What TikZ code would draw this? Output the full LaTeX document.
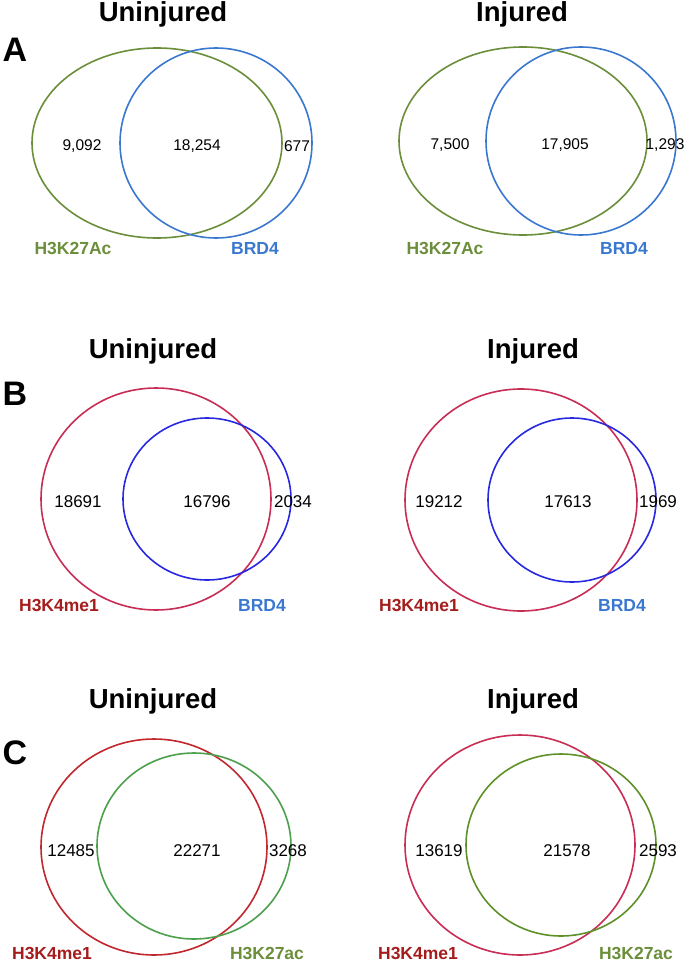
\documentclass[tikz,border=0pt]{standalone}
\usepackage{fontspec}
\setmainfont{Liberation Sans}
\usepackage{tikz}
\usetikzlibrary{positioning}
\definecolor{verdeA}{RGB}{107,142,58}
\definecolor{albastruA}{RGB}{58,120,208}
\definecolor{albastruB}{RGB}{40,40,225}
\definecolor{rosu}{RGB}{200,45,85}
\definecolor{rosuC}{RGB}{192,40,46}
\definecolor{rosuet}{RGB}{165,28,28}
\definecolor{verdeC}{RGB}{76,160,76}
\definecolor{verdeD}{RGB}{94,144,40}
\tikzset{
  titlu/.style    = {font=\bfseries\fontsize{27.5}{32}\selectfont, inner sep=0pt},
  litera/.style   = {font=\bfseries\fontsize{34}{40}\selectfont, inner sep=0pt},
  numar/.style    = {font=\fontsize{17}{20}\selectfont, inner sep=0pt},
  numarA/.style   = {font=\fontsize{15.5}{18}\selectfont, inner sep=0pt},
  eticheta/.style = {font=\bfseries\fontsize{17.5}{20}\selectfont, inner sep=0pt},
  cerc/.style     = {line width=1.6pt}
}
\begin{document}
\begin{tikzpicture}[x=1pt, y=-1pt]
    \useasboundingbox (0,0) rectangle (687,963);

    % A
    \node[litera] (la) at (15,50) {A};
    \node[titlu] (ta1) at (163,14) {Uninjured};
    \node[titlu] (ta2) at (522,14) {Injured};
    \draw[cerc, verdeA] (157,143) ellipse [x radius=125, y radius=95];
    \draw[cerc, albastruA] (216,143) ellipse [x radius=96, y radius=95];
    \draw[cerc, verdeA] (523,141) ellipse [x radius=124, y radius=94];
    \draw[cerc, albastruA] (581,141) ellipse [x radius=95, y radius=94];
    \node[numarA] (na1) at (82,146) {9,092};
    \node[numarA] (na2) at (197,146) {18,254};
    \node[numarA] (na3) at (297,146) {677};
    \node[numarA] (na4) at (450,145) {7,500};
    \node[numarA] (na5) at (565,145) {17,905};
    \node[numarA] (na6) at (665,145) {1,293};
    \node[eticheta, verdeA] (ea1) at (73,248) {H3K27Ac};
    \node[eticheta, albastruA] (ea2) at (255,248) {BRD4};
    \node[eticheta, verdeA] (ea3) at (445,248) {H3K27Ac};
    \node[eticheta, albastruA] (ea4) at (624,248) {BRD4};

    % B
    \node[litera] (lb) at (15,394) {B};
    \node[titlu] (tb1) at (153,351) {Uninjured};
    \node[titlu] (tb2) at (533,351) {Injured};
    \draw[cerc, rosu] (156,499) ellipse [x radius=115, y radius=111];
    \draw[cerc, albastruB] (207,499) ellipse [x radius=84, y radius=81];
    \draw[cerc, rosu] (521,500) ellipse [x radius=116, y radius=111];
    \draw[cerc, albastruB] (572,500) ellipse [x radius=84, y radius=82];
    \node[numar] (nb1) at (78,502) {18691};
    \node[numar] (nb2) at (207,502) {16796};
    \node[numar] (nb3) at (293,502) {2034};
    \node[numar] (nb4) at (439,502) {19212};
    \node[numar] (nb5) at (568,502) {17613};
    \node[numar] (nb6) at (658,502) {1969};
    \node[eticheta, rosuet] (eb1) at (59,605) {H3K4me1};
    \node[eticheta, albastruA] (eb2) at (262,605) {BRD4};
    \node[eticheta, rosuet] (eb3) at (419,605) {H3K4me1};
    \node[eticheta, albastruA] (eb4) at (622,605) {BRD4};

    % C
    \node[litera] (lc) at (15,753) {C};
    \node[titlu] (tc1) at (153,701) {Uninjured};
    \node[titlu] (tc2) at (533,701) {Injured};
    \draw[cerc, rosuC] (154,847) ellipse [x radius=113, y radius=108];
    \draw[cerc, verdeC] (194,846) ellipse [x radius=97, y radius=93];
    \draw[cerc, rosu] (520,845) ellipse [x radius=115, y radius=110];
    \draw[cerc, verdeD] (561,845) ellipse [x radius=95, y radius=91];
    \node[numar] (nc1) at (71,851) {12485};
    \node[numar] (nc2) at (197,851) {22271};
    \node[numar] (nc3) at (288,851) {3268};
    \node[numar] (nc4) at (439,851) {13619};
    \node[numar] (nc5) at (567,851) {21578};
    \node[numar] (nc6) at (658,851) {2593};
    \node[eticheta, rosuet] (ec1) at (52,953) {H3K4me1};
    \node[eticheta, verdeA] (ec2) at (267,953) {H3K27ac};
    \node[eticheta, rosuet] (ec3) at (418,953) {H3K4me1};
    \node[eticheta, verdeA] (ec4) at (636,953) {H3K27ac};
\end{tikzpicture}
\end{document}
